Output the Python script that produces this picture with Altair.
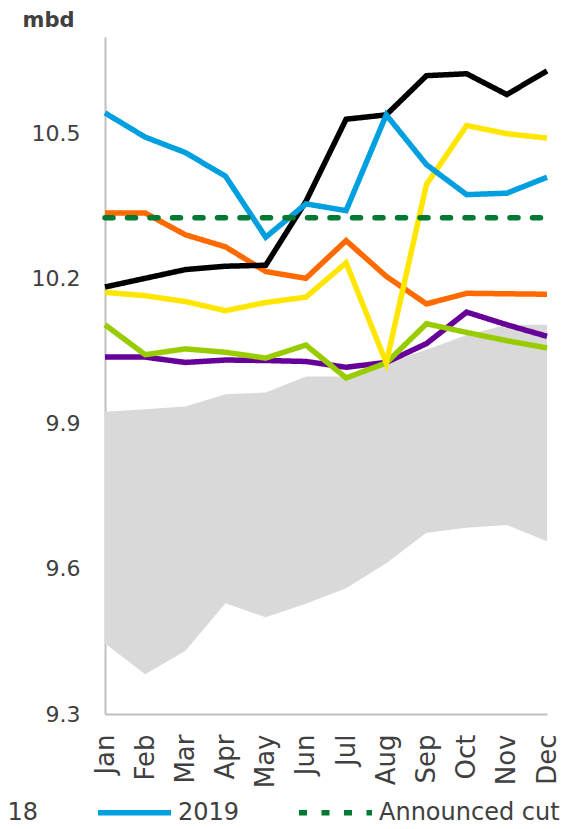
import altair as alt
import pandas as pd

months = ["Jan", "Feb", "Mar", "Apr", "May", "Jun", "Jul", "Aug", "Sep", "Oct", "Nov", "Dec"]

range_low = [9.446, 9.382, 9.431, 9.529, 9.500, 9.528, 9.560, 9.612, 9.675, 9.685, 9.691, 9.657]
range_high = [9.925, 9.930, 9.936, 9.961, 9.965, 9.998, 9.998, 10.026, 10.053, 10.084, 10.105, 10.105]

s2014 = [10.038, 10.038, 10.027, 10.032, 10.031, 10.029, 10.017, 10.027, 10.066, 10.131, 10.105, 10.081]
s2015 = [10.105, 10.043, 10.055, 10.048, 10.036, 10.063, 9.995, 10.026, 10.107, 10.089, 10.072, 10.057]
s2016 = [10.172, 10.165, 10.153, 10.134, 10.151, 10.162, 10.233, 10.026, 10.395, 10.517, 10.500, 10.491]
s2017 = [10.336, 10.336, 10.291, 10.266, 10.215, 10.201, 10.279, 10.205, 10.148, 10.170, 10.169, 10.168]
s2018 = [10.183, 10.201, 10.219, 10.226, 10.228, 10.360, 10.530, 10.539, 10.620, 10.624, 10.581, 10.630]
s2019 = [10.543, 10.493, 10.461, 10.412, 10.286, 10.355, 10.341, 10.539, 10.436, 10.374, 10.377, 10.410]
announced_cut = [10.326, 10.326, 10.326, 10.326, 10.326, 10.326, 10.326, 10.326, 10.326, 10.326, 10.326, 10.326]

series_names = ["2014", "2015", "2016", "2017", "2018", "2019", "Announced cut"]
series_colors = ["#660099", "#99CC00", "#FFE600", "#FF6A00", "#000000", "#009FDF", "#007A33"]
series_dashes = [[1, 0], [1, 0], [1, 0], [1, 0], [1, 0], [1, 0], [8, 14.5]]

# drawing order of the solid lines
draw_order = [("2014", s2014), ("2015", s2015), ("2017", s2017), ("2016", s2016),
              ("2018", s2018), ("2019", s2019)]

rows = []
for name, vals in draw_order:
    for m, v in zip(months, vals):
        rows.append({"month": m, "series": name, "value": v})
lines_df = pd.DataFrame(rows)

cut_df = pd.DataFrame({"month": months, "series": "Announced cut", "value": announced_cut})
range_df = pd.DataFrame({"month": months, "low": range_low, "high": range_high})

TXT = "#404040"
FONT = "DejaVu Sans"

x_enc = alt.X("month:O", scale=alt.Scale(domain=months, padding=0), title=None)
y_axis = alt.Axis(values=[9.3, 9.6, 9.9, 10.2, 10.5], format=".1f")
y_scale = alt.Scale(domain=[9.3, 10.7], zero=False, nice=False)

legend = alt.Legend(
    title=None,
    orient="none",
    legendX=-1015,
    legendY=736,
    direction="horizontal",
    columns=7,
    columnPadding=48,
    labelFont=FONT,
    labelFontSize=24,
    labelColor=TXT,
    labelOffset=4,
    labelLimit=400,
    symbolType="stroke",
    symbolSize=5329,
    symbolStrokeWidth=5.5,
)

color_enc = alt.Color("series:N", scale=alt.Scale(domain=series_names, range=series_colors), legend=legend)
dash_enc = alt.StrokeDash("series:N", scale=alt.Scale(domain=series_names, range=series_dashes), legend=legend)

area = alt.Chart(range_df).mark_area(color="#D9D9D9", opacity=1).encode(
    x=x_enc,
    y=alt.Y("low:Q", scale=y_scale, axis=y_axis, title="mbd"),
    y2="high:Q",
)

lines = alt.Chart(lines_df).mark_line(strokeWidth=5.5).encode(
    x=x_enc,
    y=alt.Y("value:Q", scale=y_scale, axis=y_axis, title="mbd"),
    color=color_enc,
    strokeDash=dash_enc,
)

cut = alt.Chart(cut_df).mark_line(strokeWidth=5.5, strokeCap="round").encode(
    x=x_enc,
    y=alt.Y("value:Q", scale=y_scale, axis=y_axis, title="mbd"),
    color=color_enc,
    strokeDash=dash_enc,
)

chart = alt.layer(area, lines, cut).properties(
    width=442,
    height=677,
    autosize=alt.AutoSizeParams(type="none"),
    padding={"left": 97, "top": 29, "right": 30, "bottom": 106},
).configure_view(
    stroke=None
).configure_axis(
    domainColor="#BFBFBF",
    domainWidth=2,
    ticks=False,
    tickSize=0,
    grid=False,
    labelFont=FONT,
    labelColor=TXT,
).configure_axisX(
    labelAngle=270,
    labelFontSize=26,
    labelPadding=20,
).configure_axisY(
    labelFontSize=22,
    labelPadding=25,
    titleAngle=0,
    titleX=-83,
    titleY=-11,
    titleAlign="left",
    titleBaseline="alphabetic",
    titleFont=FONT,
    titleFontSize=21,
    titleFontWeight="bold",
    titleColor=TXT,
)

chart.save("out.html", embed_options={"renderer": "svg", "actions": False})
